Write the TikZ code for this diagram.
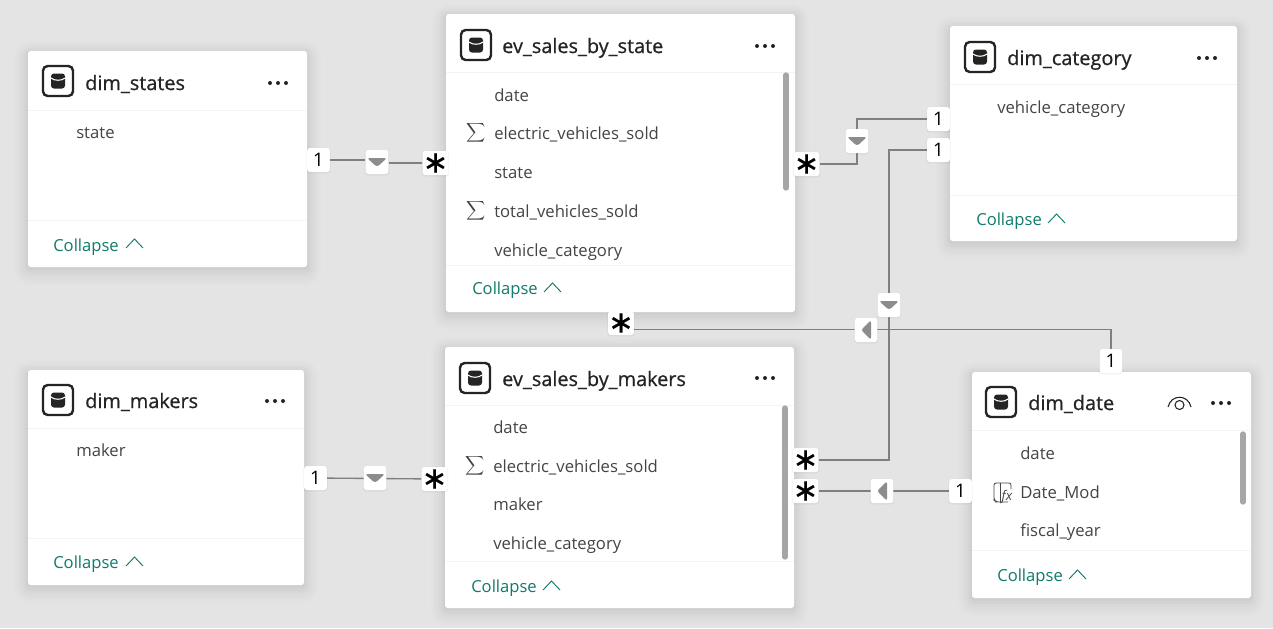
\documentclass[tikz,border=0pt]{standalone}
\usepackage{fontspec}
\setmainfont{Open Sans}
\newfontfamily\titlefont[RawFeature={embolden=0.7}]{Open Sans}
\newfontfamily\manyfont[RawFeature={embolden=0.2}]{DejaVu Sans}
\usetikzlibrary{fit,backgrounds}
\definecolor{canvas}{HTML}{E4E4E4}
\definecolor{linkgray}{HTML}{7F7F7F}
\definecolor{trigray}{HTML}{8C8C8C}
\definecolor{barcol}{HTML}{A6A6A6}
\definecolor{sepcol}{HTML}{F4F4F4}
\definecolor{fieldcol}{HTML}{444444}
\definecolor{titlecol}{HTML}{252423}
\definecolor{collapsecol}{HTML}{0F7B6C}
\tikzset{
  softshade/.style={
    preaction={draw=black,draw opacity=.008,line width=21pt,transform canvas={yshift=-3pt}},
    preaction={draw=black,draw opacity=.01,line width=17pt,transform canvas={yshift=-3pt}},
    preaction={draw=black,draw opacity=.013,line width=13pt,transform canvas={yshift=-3pt}},
    preaction={draw=black,draw opacity=.016,line width=9pt,transform canvas={yshift=-2pt}},
    preaction={draw=black,draw opacity=.02,line width=5pt,transform canvas={yshift=-2pt}},
    preaction={draw=black,draw opacity=.025,line width=2pt,transform canvas={yshift=-1pt}}},
  card/.style={fill=white,rounded corners=2pt,inner sep=0pt,softshade},
  badge/.style={fill=white,rounded corners=2pt,inner sep=0pt,minimum width=17pt,minimum height=18pt,
    preaction={draw=black,draw opacity=.05,line width=1.2pt,transform canvas={yshift=-.5pt}},
    font=\fontsize{14}{14}\selectfont,text=black},
  onebadge/.style={badge},
  manybadge/.style={badge,font=\manyfont\fontsize{23}{23}\selectfont},
  tridown/.style={badge,path picture={
    \fill[trigray,shift={(path picture bounding box.center)}] (-10,-4)--(10,-4)--(0,5)--cycle;}},
  trileft/.style={badge,path picture={
    \fill[trigray,shift={(path picture bounding box.center)}] (5,-10)--(5,10)--(-5,0)--cycle;}},
  title/.style={anchor=mid west,inner sep=0pt,yshift=-2.6pt,text=titlecol,font=\titlefont\fontsize{14.9}{18}\selectfont},
  field/.style={anchor=mid west,inner sep=0pt,yshift=-2.25pt,text=fieldcol,font=\fontsize{12.5}{15}\selectfont},
  sumsign/.style={inner sep=0pt,text=fieldcol,font=\fontsize{8.6}{10}\selectfont},
  collapse/.style={anchor=mid west,inner sep=0pt,yshift=-2.25pt,text=collapsecol,font=\fontsize{12.45}{15}\selectfont},
  dbicon/.style={draw=titlecol,line width=1.8pt,rounded corners=3.5pt,inner sep=0pt,minimum size=22.5pt,path picture={
    \begin{scope}[shift={(path picture bounding box.center)}]
      \fill[titlecol,rounded corners=2.2pt] (-7,-7.5) rectangle (7,7.5);
      \draw[white,line width=.8pt] (-7,-3) .. controls (-4,0) and (4,0) .. (7,-3);
    \end{scope}}},
  moredots/.style={inner sep=0pt,minimum width=19pt,minimum height=6pt,path picture={
    \begin{scope}[shift={(path picture bounding box.center)},titlecol]
      \fill (-8,0) circle (2);
      \fill (0,0) circle (2);
      \fill (8,0) circle (2);
    \end{scope}}},
  sep/.style={draw=sepcol,line width=.75pt},
  bar/.style={draw=barcol,line width=4pt,line cap=round},
  link/.style={draw=linkgray,line width=1pt},
  chev/.style={draw=collapsecol,line width=.7pt}
}
\begin{document}
\begin{tikzpicture}[x=.75pt,y=-.75pt]
\useasboundingbox (0,0) rectangle (1273,628);
\begin{scope}[on background layer]
  \fill[canvas] (0,0) rectangle (1273,628);
\end{scope}
% tables
\node[card,fit={(28,51) (307,267)}] (states) {};
\node[card,fit={(446,14) (795,312)}] (bystate) {};
\node[card,fit={(950,26) (1237,241)}] (category) {};
\node[card,fit={(28,370) (304,585)}] (makers) {};
\node[card,fit={(445,347) (794,608)}] (bymakers) {};
\node[card,fit={(972,372) (1251,598)}] (date) {};
% dim_states
\node[dbicon] (statesicon) at (58,81) {};
\node[title] (statestitle) at (85,83) {dim\_states};
\node[moredots] (statesmore) at (278,83) {};
\draw[sep] (28,110) -- (307,110);
\draw[sep] (28,220) -- (307,220);
\node[field] (statesf1) at (76,132) {state};
\node[collapse] (statesc) at (53,245) {Collapse};
\draw[chev] (126,248) -- (134.5,239) -- (143,248);
% ev_sales_by_state
\node[dbicon] (bystateicon) at (476,45) {};
\node[title] (bystatetitle) at (502,46) {ev\_sales\_by\_state};
\node[moredots] (bystatemore) at (765,46) {};
\draw[sep] (446,72) -- (795,72);
\draw[sep] (446,265) -- (795,265);
\node[field] (bystatef1) at (494,95) {date};
\node[field] (bystatef2) at (494,133) {electric\_vehicles\_sold};
\node[field] (bystatef3) at (494,172) {state};
\node[field] (bystatef4) at (494,211) {total\_vehicles\_sold};
\node[field] (bystatef5) at (494,250) {vehicle\_category};
\node[sumsign] (bystates1) at (476,133) {$\displaystyle\sum$};
\node[sumsign] (bystates2) at (476,211) {$\displaystyle\sum$};
\draw[bar] (786,75) -- (786,188);
\node[collapse] (bystatec) at (472,288) {Collapse};
\draw[chev] (544,292) -- (552.5,283) -- (561,292);
% dim_category
\node[dbicon] (categoryicon) at (980,57) {};
\node[title] (categorytitle) at (1007,58) {dim\_category};
\node[moredots] (categorymore) at (1207,58) {};
\draw[sep] (950,84) -- (1237,84);
\draw[sep] (950,195) -- (1237,195);
\node[field] (categoryf1) at (997,107) {vehicle\_category};
\node[collapse] (categoryc) at (976,219) {Collapse};
\draw[chev] (1048,223) -- (1056.5,214) -- (1065,223);
% dim_makers
\node[dbicon] (makersicon) at (58,400) {};
\node[title] (makerstitle) at (85,401) {dim\_makers};
\node[moredots] (makersmore) at (275,401) {};
\draw[sep] (28,428) -- (304,428);
\draw[sep] (28,538) -- (304,538);
\node[field] (makersf1) at (76,450) {maker};
\node[collapse] (makersc) at (53,562) {Collapse};
\draw[chev] (126,566) -- (134.5,557) -- (143,566);
% ev_sales_by_makers
\node[dbicon] (bymakersicon) at (475,378) {};
\node[title] (bymakerstitle) at (502,379) {ev\_sales\_by\_makers};
\node[moredots] (bymakersmore) at (765,378) {};
\draw[sep] (445,405) -- (794,405);
\draw[sep] (445,561) -- (794,561);
\node[field] (bymakersf1) at (493,427) {date};
\node[field] (bymakersf2) at (493,466) {electric\_vehicles\_sold};
\node[field] (bymakersf3) at (493,504) {maker};
\node[field] (bymakersf4) at (493,543) {vehicle\_category};
\node[sumsign] (bymakerss1) at (475,466) {$\displaystyle\sum$};
\draw[bar] (785,408) -- (785,557);
\node[collapse] (bymakersc) at (471,586) {Collapse};
\draw[chev] (543,590) -- (551.5,581) -- (560,590);
% dim_date
\node[dbicon] (dateicon) at (1001,402) {};
\node[title] (datetitle) at (1028,403) {dim\_date};
\draw[titlecol,line width=.8pt] (1168,407) .. controls (1171,394) and (1188,394) .. (1191,407);
\draw[titlecol,line width=.8pt] (1179.5,405) circle (4.5);
\node[moredots] (datemore) at (1221,403) {};
\draw[sep] (972,430) -- (1251,430);
\draw[sep] (972,550) -- (1251,550);
\node[field] (datef1) at (1020,453) {date};
\node[field] (datef2) at (1020,492) {Date\_Mod};
\node[field] (datef3) at (1020,530) {fiscal\_year};
\draw[fieldcol,line width=.6pt,rounded corners=1.5pt] (1008,502) -- (996,502) -- (994,500) -- (994,483) -- (1011,483) -- (1011,489);
\draw[fieldcol,line width=.6pt] (1000,483) -- (1000,502);
\node[inner sep=0pt,text=fieldcol,font=\fontsize{10}{10}\selectfont\itshape] (datefx) at (1007,497) {fx};
\draw[bar] (1243,434) -- (1243,502);
\node[collapse] (datec) at (997,575) {Collapse};
\draw[chev] (1069,579) -- (1077.5,570) -- (1086,579);
% link badges
\node[onebadge] (l1a) at (318.5,160) {1};
\node[tridown] (l1t) at (377,162) {};
\node[manybadge] (l1b) at (435.5,163) {∗};
\node[onebadge] (l2a) at (315.5,478) {1};
\node[tridown] (l2t) at (375,478) {};
\node[manybadge] (l2b) at (434.5,479) {∗};
\node[manybadge] (l3a) at (806.5,164) {∗};
\node[tridown] (l3t) at (857,141) {};
\node[onebadge] (l3b) at (938.5,119) {1};
\node[manybadge] (l4a) at (805.5,460) {∗};
\node[tridown] (l4t) at (889,305) {};
\node[onebadge] (l4b) at (938.5,150) {1};
\node[manybadge] (l5a) at (621,323) {∗};
\node[trileft] (l5t) at (866,330) {};
\node[onebadge] (l5b) at (1111,361) {1};
\node[manybadge] (l6a) at (805.5,491) {∗};
\node[trileft] (l6t) at (882,491) {};
\node[onebadge] (l6b) at (960.5,491) {1};
% links
\begin{scope}[on background layer]
  \draw[link] (l1a.east) -- (l1t.west |- l1a.east);
  \draw[link] (l1t.east |- l1b.west) -- (l1b.west);
  \draw[link] (l2a) -- (l2b);
  \draw[link] (l3a.east) -| (l3t.south);
  \draw[link] (l3t.north) |- (l3b.west);
  \draw[link] (l4a.east) -| (l4t) |- (l4b.west);
  \draw[link] ([yshift=-5pt]l5a.east) -| (l5b.north);
  \draw[link] (l6a) -- (l6b);
\end{scope}
\end{tikzpicture}
\end{document}
